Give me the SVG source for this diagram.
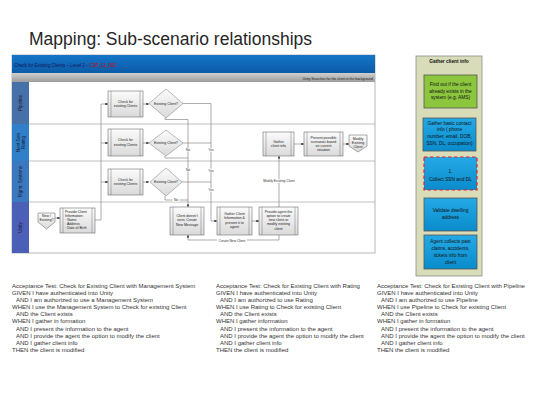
<svg xmlns="http://www.w3.org/2000/svg" width="541" height="406" viewBox="0 0 541 406">
<style>
.title{font-family:"Liberation Sans",Arial,sans-serif;font-size:17.5px;fill:#262626}
.t{font-family:"Liberation Sans",Arial,sans-serif;font-size:3.5px;fill:#222;text-anchor:middle}
.tl{font-family:"Liberation Sans",Arial,sans-serif;font-size:3.5px;fill:#222}
.lbl{font-family:"Liberation Sans",Arial,sans-serif;font-size:3.3px;fill:#333;text-anchor:middle}
.lane{font-family:"Liberation Sans",Arial,sans-serif;font-size:4.5px;fill:#1a1a3a;text-anchor:middle}
.box{fill:url(#ng);stroke:#555;stroke-width:0.5}
.inner{stroke:#555;stroke-width:0.4}
.dia{fill:url(#ng);stroke:#777;stroke-width:0.5}
.con{fill:none;stroke:#777;stroke-width:0.6}
.arr{fill:none;stroke:#777;stroke-width:0.6;marker-end:url(#ah)}
.sep{stroke:#999;stroke-width:0.6}
.p{font-family:"Liberation Sans",Arial,sans-serif;font-size:4.8px;fill:#111;text-anchor:middle}
.pb{stroke:#555;stroke-width:0.8}
.acc{font-family:"Liberation Sans",Arial,sans-serif;font-size:6px;fill:#333}
.lb{fill:#fff}
</style>
<defs>
<linearGradient id="ng" x1="0" y1="0" x2="0" y2="1"><stop offset="0" stop-color="#fbfbfb"/><stop offset="1" stop-color="#dadada"/></linearGradient>
<linearGradient id="hg" x1="0" y1="0" x2="0" y2="1"><stop offset="0" stop-color="#1575c8"/><stop offset="1" stop-color="#0b5ba6"/></linearGradient>
<linearGradient id="gg" x1="0" y1="0" x2="0" y2="1"><stop offset="0" stop-color="#cfcfcf"/><stop offset="1" stop-color="#9c9c9c"/></linearGradient>
<linearGradient id="bg" x1="0" y1="0" x2="0" y2="1"><stop offset="0" stop-color="#25a9e6"/><stop offset="1" stop-color="#0a8ccc"/></linearGradient>
<marker id="ah" viewBox="0 0 10 10" refX="10" refY="5" markerWidth="2.6" markerHeight="2.6" markerUnits="userSpaceOnUse" orient="auto"><path d="M0,0 L10,5 L0,10z" fill="#222"/></marker>
</defs>
<rect width="541" height="406" fill="#fff"/>
<text class="title" x="29" y="45">Mapping: Sub-scenario relationships</text>

<g id="frame">
<rect x="12" y="55" width="363" height="198" fill="#fff" stroke="#888" stroke-width="0.6"/>
<rect x="12" y="55" width="363" height="18" fill="url(#hg)"/>
<rect x="12" y="73" width="363" height="9" fill="url(#gg)"/>
<text x="14" y="66.5" font-family="Liberation Sans,Arial,sans-serif" font-size="4.5" fill="#14145a">Check for Existing Clients – Level 2 – <tspan fill="#d00000">C2P_L2_002</tspan></text>
<text x="373" y="79.5" font-family="Liberation Sans,Arial,sans-serif" font-size="3.4" fill="#222" text-anchor="end">Unity Searches for the client in the background</text>
<line class="sep" x1="12" y1="124" x2="375" y2="124"/>
<line class="sep" x1="12" y1="161" x2="375" y2="161"/>
<line class="sep" x1="12" y1="202" x2="375" y2="202"/>
</g>

<g id="lane-pipeline">
<rect x="12" y="82" width="17" height="42" fill="#4670a8"/>
<text class="lane" transform="translate(22,103) rotate(-90)">Pipeline</text>
</g>
<g id="lane-nextgen">
<rect x="12" y="124" width="17" height="37" fill="#2f80c8"/>
<text class="lane" transform="translate(19.5,142.5) rotate(-90)">Next Gen</text>
<text class="lane" transform="translate(24.5,142.5) rotate(-90)">Rating</text>
</g>
<g id="lane-mgmt">
<rect x="12" y="161" width="17" height="41" fill="#3a78bf"/>
<text class="lane" transform="translate(22,181.5) rotate(-90)">Mgmt. Systems</text>
</g>
<g id="lane-unity">
<rect x="12" y="202" width="17" height="51" fill="#4b5fb6"/>
<text class="lane" transform="translate(22,227.5) rotate(-90)">Unity</text>
</g>

<g id="connectors">
<path class="arr" d="M95,220 H101 V104 H108"/>
<path class="arr" d="M101,143 H108"/>
<path class="arr" d="M101,182 H108"/>
<path class="arr" d="M143,104 H149"/>
<path class="arr" d="M143,143 H149"/>
<path class="arr" d="M143,182 H149"/>
<path class="arr" d="M55,218 H60"/>
<path class="con" d="M183,103.5 H211"/>
<path class="con" d="M183,143 H211"/>
<path class="con" d="M182,182 H211"/>
<path class="arr" d="M211,103.5 V221 H217"/>
<path class="con" d="M165,118 V119.5 H188"/>
<path class="con" d="M165,156 V158 H188"/>
<path class="con" d="M165,196 V200 H188"/>
<path class="arr" d="M188,119.5 V207"/>
<path class="arr" d="M252,221 H259"/>
<path class="arr" d="M279,207 V156"/>
<path class="arr" d="M279,235 V240 H188 V235"/>
<path class="arr" d="M294,144 H304"/>
<path class="arr" d="M343,144 H349"/>
<rect class="lb" x="184.5" y="148" width="7" height="3.6"/>
<text class="lbl" x="188" y="151">No</text>
<rect class="lb" x="207" y="148" width="8" height="3.6"/>
<text class="lbl" x="211" y="151">Yes</text>
<rect class="lb" x="184.5" y="168" width="7" height="3.6"/>
<text class="lbl" x="188" y="171">No</text>
<rect class="lb" x="207" y="168.5" width="8" height="3.6"/>
<text class="lbl" x="211" y="171.5">Yes</text>
<rect class="lb" x="207" y="188" width="8" height="3.6"/>
<text class="lbl" x="211" y="191">Yes</text>
<rect class="lb" x="172.5" y="198" width="7" height="3.6"/>
<text class="lbl" x="176" y="201">No</text>
<rect class="lb" x="262" y="179" width="34" height="3.6"/>
<text class="lbl" x="279" y="182">Modify Existing Client</text>
<rect class="lb" x="217" y="238.5" width="30" height="3.6"/>
<text class="lbl" x="232" y="241.5">Create New Client</text>
</g>

<g id="check-pipeline">
<rect class="box" x="108" y="91" width="35" height="26"/>
<line class="inner" x1="111" y1="91" x2="111" y2="117"/><line class="inner" x1="140" y1="91" x2="140" y2="117"/>
<text class="t" x="125.5" y="102.5">Check for</text><text class="t" x="125.5" y="107">existing Clients</text>
</g>
<g id="dec-pipeline">
<polygon class="dia" points="166,89 183,103.5 166,118 149,103.5"/>
<text class="t" x="166" y="104.7">Existing Client?</text>
</g>
<g id="check-nextgen">
<rect class="box" x="108" y="129" width="35" height="27"/>
<line class="inner" x1="111" y1="129" x2="111" y2="156"/><line class="inner" x1="140" y1="129" x2="140" y2="156"/>
<text class="t" x="125.5" y="141">Check for</text><text class="t" x="125.5" y="145.5">existing Clients</text>
</g>
<g id="dec-nextgen">
<polygon class="dia" points="166,130 183,143 166,156 149,143"/>
<text class="t" x="166" y="144.2">Existing Client?</text>
</g>
<g id="check-mgmt">
<rect class="box" x="108" y="169" width="35" height="26"/>
<line class="inner" x1="111" y1="169" x2="111" y2="195"/><line class="inner" x1="140" y1="169" x2="140" y2="195"/>
<text class="t" x="125.5" y="180.5">Check for</text><text class="t" x="125.5" y="185">existing Clients</text>
</g>
<g id="dec-mgmt">
<polygon class="dia" points="166,168 182,182 166,196 150,182"/>
<text class="t" x="166" y="183.2">Existing Client?</text>
</g>
<g id="new-existing">
<polygon class="box" points="38,213 55,213 55,222 46.5,229 38,222"/>
<text class="t" x="46.5" y="217">New /</text><text class="t" x="46.5" y="221">Existing?</text>
</g>
<g id="provide-info">
<rect class="box" x="60" y="208" width="35" height="25"/>
<line class="inner" x1="63" y1="208" x2="63" y2="233"/><line class="inner" x1="92" y1="208" x2="92" y2="233"/>
<text class="tl" x="65" y="212.5">Provide Client</text>
<text class="tl" x="65" y="216.7">Information:</text>
<text class="tl" x="65" y="220.9">· Name</text>
<text class="tl" x="65" y="225.1">· Address</text>
<text class="tl" x="65" y="229.3">· Date of Birth</text>
</g>
<g id="client-not-exist">
<rect class="box" x="170" y="207" width="34" height="28"/>
<line class="inner" x1="173" y1="207" x2="173" y2="235"/><line class="inner" x1="201" y1="207" x2="201" y2="235"/>
<text class="t" x="187" y="217">Client doesn’t</text><text class="t" x="187" y="221.3">exist, Create</text><text class="t" x="187" y="225.6">New Message</text>
</g>
<g id="gather-present">
<rect class="box" x="217" y="207" width="35" height="28"/>
<line class="inner" x1="220" y1="207" x2="220" y2="235"/><line class="inner" x1="249" y1="207" x2="249" y2="235"/>
<text class="t" x="234.5" y="215">Gather Client</text><text class="t" x="234.5" y="219.3">Information &amp;</text><text class="t" x="234.5" y="223.6">present it to</text><text class="t" x="234.5" y="227.9">agent</text>
</g>
<g id="provide-option">
<rect class="box" x="259" y="207" width="39" height="28"/>
<line class="inner" x1="262" y1="207" x2="262" y2="235"/><line class="inner" x1="295" y1="207" x2="295" y2="235"/>
<text class="t" x="278.5" y="212.5">Provide agent the</text><text class="t" x="278.5" y="216.8">option to create</text><text class="t" x="278.5" y="221.1">new client or</text><text class="t" x="278.5" y="225.4">modify existing</text><text class="t" x="278.5" y="229.7">client</text>
</g>
<g id="gather-client-info">
<rect class="box" x="263" y="132" width="31" height="24"/>
<line class="inner" x1="266" y1="132" x2="266" y2="156"/><line class="inner" x1="291" y1="132" x2="291" y2="156"/>
<text class="t" x="278.5" y="142.5">Gather</text><text class="t" x="278.5" y="146.8">client info</text>
</g>
<g id="present-scenarios">
<rect class="box" x="304" y="132" width="39" height="24"/>
<line class="inner" x1="307" y1="132" x2="307" y2="156"/><line class="inner" x1="340" y1="132" x2="340" y2="156"/>
<text class="t" x="323.5" y="138.5">Present possible</text><text class="t" x="323.5" y="142.8">scenarios based</text><text class="t" x="323.5" y="147.1">on current</text><text class="t" x="323.5" y="151.4">situation</text>
</g>
<g id="modify-existing">
<polygon class="box" points="349,135 367,135 367,146 358,152 349,146"/>
<text class="t" x="358" y="139.5">Modify</text><text class="t" x="358" y="143.5">Existing</text><text class="t" x="358" y="147.5">Client</text>
</g>

<g id="panel">
<rect x="416" y="56" width="66" height="220" fill="#d8dcb8" stroke="#8c8c8c" stroke-width="0.8"/>
<text class="p" x="449" y="62.5" font-weight="bold">Gather client info</text>
</g>
<g id="p-find">
<rect class="pb" x="424" y="75" width="53" height="33" fill="#8cc63f"/>
<text class="p" x="450.5" y="86">Find out if the client</text><text class="p" x="450.5" y="92.7">already exists in the</text><text class="p" x="450.5" y="99.4">system (e.g. AMS)</text>
</g>
<g id="p-gather">
<rect class="pb" x="423" y="118" width="53" height="33" fill="url(#bg)"/>
<text class="p" x="449.5" y="124.5">Gather basic contact</text><text class="p" x="449.5" y="131.2">info ( phone</text><text class="p" x="449.5" y="137.9">number, email, DOB,</text><text class="p" x="449.5" y="144.6">SSN, DL, occupation)</text>
</g>
<g id="p-collect">
<rect x="424" y="157" width="53" height="33" fill="url(#bg)" stroke="#e8202a" stroke-width="1.2" stroke-dasharray="3.5,2.5"/>
<text class="p" x="450.5" y="172.5" font-size="7">1.</text><text class="p" x="450.5" y="180.7">Collect SSN and DL</text>
</g>
<g id="p-validate">
<rect class="pb" x="424" y="198" width="53" height="33" fill="url(#bg)"/>
<text class="p" x="450.5" y="211.5">Validate dwelling</text><text class="p" x="450.5" y="218.5">address</text>
</g>
<g id="p-agent">
<rect class="pb" x="424" y="235" width="53" height="34" fill="url(#bg)"/>
<text class="p" x="450.5" y="242.5">Agent collects past</text><text class="p" x="450.5" y="249.7">claims, accidents,</text><text class="p" x="450.5" y="256.9">tickets info from</text><text class="p" x="450.5" y="264.1">client</text>
</g>

<g id="acc-mgmt" class="acc" xml:space="preserve">
<text x="12" y="287.7">Acceptance Test:  Check for Existing Client  with Management System</text>
<text x="12" y="294.8">GIVEN  I have authenticated into Unity</text>
<text x="16" y="302">AND I am authorized to use a Management System</text>
<text x="12" y="309.1">WHEN  I use the Management System to Check for existing Client</text>
<text x="16" y="316.3">AND the Client  exists</text>
<text x="12" y="323.4">WHEN  I gather in formation</text>
<text x="16" y="330.5">AND I present the information to the agent</text>
<text x="16" y="337.7">AND I provide the agent the option to modify the client</text>
<text x="16" y="344.8">AND I gather client info</text>
<text x="12" y="352">THEN  the client is modified</text>
</g>
<g id="acc-rating" class="acc" xml:space="preserve">
<text x="216" y="287.7">Acceptance Test:  Check for Existing Client  with Rating</text>
<text x="216" y="294.8">GIVEN  I have authenticated into  Unity</text>
<text x="220" y="302">AND I am authorized to use Rating</text>
<text x="216" y="309.1">WHEN  I use Rating to Check for existing Client</text>
<text x="220" y="316.3">AND the Client  exists</text>
<text x="216" y="323.4">WHEN  I gather information</text>
<text x="220" y="330.5">AND I present the information to the agent</text>
<text x="220" y="337.7">AND I provide the agent the option to modify the client</text>
<text x="220" y="344.8">AND I gather client info</text>
<text x="216" y="352">THEN  the client is modified</text>
</g>
<g id="acc-pipeline" class="acc" xml:space="preserve">
<text x="377" y="287.7">Acceptance Test:  Check for Existing Client  with Pipeline</text>
<text x="377" y="294.8">GIVEN  I have authenticated into  Unity</text>
<text x="381" y="302">AND I am authorized to use Pipeline</text>
<text x="377" y="309.1">WHEN  I use Pipeline  to Check for existing Client</text>
<text x="381" y="316.3">AND the Client  exists</text>
<text x="377" y="323.4">WHEN  I gather in formation</text>
<text x="381" y="330.5">AND I present the information to the agent</text>
<text x="381" y="337.7">AND I provide the agent the option to modify the client</text>
<text x="381" y="344.8">AND I gather client info</text>
<text x="377" y="352">THEN  the client is modified</text>
</g>
</svg>
